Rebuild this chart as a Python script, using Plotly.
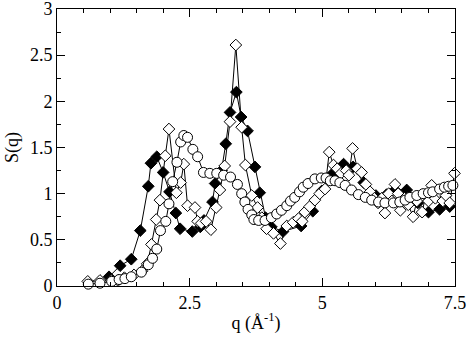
import plotly.graph_objs as go

# filled diamonds
q_filled = [0.98, 1.19, 1.40, 1.57, 1.72, 1.77, 1.88, 2.00, 2.12, 2.24, 2.32, 2.55, 2.70, 2.77,
            2.93, 2.98, 3.10, 3.18, 3.26, 3.38, 3.47, 3.59, 3.73, 3.82, 3.93, 4.04, 4.26, 4.60,
            4.82, 4.99, 5.18, 5.40, 5.58, 5.78, 6.01, 6.21, 6.37, 6.59, 6.80, 7.00, 7.21, 7.40]
s_filled = [0.10, 0.22, 0.29, 0.60, 1.08, 1.33, 1.40, 1.23, 1.02, 0.79, 0.62, 0.59, 0.64, 0.71,
            0.91, 1.11, 1.25, 1.54, 1.88, 2.10, 1.83, 1.68, 1.29, 1.01, 0.74, 0.64, 0.59, 0.65,
            0.81, 1.03, 1.21, 1.32, 1.29, 1.12, 0.98, 0.99, 1.04, 1.04, 0.90, 0.80, 0.83, 0.86]

# open diamonds
q_open = [0.58, 0.81, 1.02, 1.15, 1.27, 1.45, 1.60, 1.70, 1.78, 1.87, 1.94, 2.04, 2.11, 2.25,
          2.33, 2.39, 2.46, 2.60, 2.65, 2.72, 2.81, 2.90, 3.00, 3.07, 3.16, 3.26, 3.37, 3.48,
          3.55, 3.67, 3.78, 3.86, 3.95, 4.08, 4.21, 4.33, 4.45, 4.55, 4.62, 4.67, 4.76, 4.86,
          4.95, 5.05, 5.13, 5.21, 5.28, 5.35, 5.45, 5.50, 5.57, 5.66, 5.74, 5.82, 5.90, 5.98,
          6.05, 6.12, 6.18, 6.25, 6.31, 6.37, 6.43, 6.47, 6.55, 6.62, 6.71, 6.78, 6.88, 6.95,
          7.00, 7.06, 7.13, 7.20, 7.27, 7.33, 7.40, 7.49]
s_open = [0.05, 0.06, 0.06, 0.06, 0.09, 0.12, 0.16, 0.24, 0.45, 0.72, 0.93, 1.41, 1.70, 1.01,
          1.12, 1.32, 0.87, 0.85, 0.70, 0.68, 0.70, 0.61, 0.85, 1.04, 1.30, 1.78, 2.61, 1.72,
          1.31, 0.98, 0.85, 0.74, 0.62, 0.57, 0.46, 0.65, 0.69, 0.73, 0.70, 0.80, 0.86, 0.93,
          1.00, 1.05, 1.45, 1.31, 1.27, 1.22, 1.25, 1.20, 1.49, 1.27, 1.23, 1.10, 1.02, 0.95,
          0.90, 0.95, 0.79, 1.00, 0.92, 1.10, 1.00, 0.82, 0.95, 0.88, 0.75, 0.92, 0.80, 0.98,
          0.92, 1.09, 0.95, 1.02, 0.92, 0.98, 0.90, 1.22]

# open circles
q_circ = [0.59, 0.81, 1.03, 1.17, 1.28, 1.40, 1.59, 1.72, 1.80, 1.88, 1.95, 2.05, 2.11, 2.18,
          2.26, 2.33, 2.39, 2.46, 2.56, 2.65, 2.76, 2.88, 3.01, 3.14, 3.27, 3.40, 3.48, 3.54,
          3.60, 3.67, 3.71, 3.80, 3.92, 4.04, 4.14, 4.23, 4.33, 4.40, 4.48, 4.57, 4.64, 4.73,
          4.86, 4.98, 5.07, 5.15, 5.24, 5.33, 5.43, 5.55, 5.68, 5.81, 5.93, 6.06, 6.18, 6.34,
          6.46, 6.56, 6.65, 6.78, 6.90, 7.00, 7.08, 7.21, 7.30, 7.38, 7.46]
s_circ = [0.02, 0.03, 0.05, 0.07, 0.08, 0.10, 0.15, 0.23, 0.30, 0.40, 0.60, 0.70, 0.89, 1.13,
          1.34, 1.56, 1.63, 1.61, 1.48, 1.40, 1.23, 1.22, 1.22, 1.20, 1.18, 1.10, 1.00, 0.91,
          0.83, 0.77, 0.72, 0.71, 0.71, 0.74, 0.78, 0.82, 0.87, 0.92, 0.96, 1.02, 1.07, 1.11,
          1.16, 1.17, 1.17, 1.14, 1.14, 1.12, 1.09, 1.04, 0.99, 0.96, 0.93, 0.91, 0.90, 0.90,
          0.91, 0.93, 0.96, 0.98, 1.00, 1.01, 1.02, 1.05, 1.07, 1.08, 1.09]

serif = '"Liberation Serif", "Times New Roman", "DejaVu Serif", serif'
line = dict(color='black', width=1)
data = [
    go.Scatter(x=q_filled, y=s_filled, mode='lines+markers', line=line, cliponaxis=False,
               marker=dict(symbol='diamond', size=9, color='black', line=dict(color='black', width=1))),
    go.Scatter(x=q_open, y=s_open, mode='lines+markers', line=line, cliponaxis=False,
               marker=dict(symbol='diamond', size=9, color='white', line=dict(color='black', width=1))),
    go.Scatter(x=q_circ, y=s_circ, mode='lines+markers', line=line, cliponaxis=False,
               marker=dict(symbol='circle', size=10, color='white', line=dict(color='black', width=1))),
]

axis_common = dict(showline=True, linecolor='black', linewidth=1, mirror='ticks', automargin=False,
                   ticks='inside', ticklen=8, tickcolor='black', showgrid=False, zeroline=False,
                   ticklabeloverflow='allow',
                   tickfont=dict(family=serif, size=18, color='black'))

layout = go.Layout(
    width=469, height=345, showlegend=False,
    paper_bgcolor='white', plot_bgcolor='white',
    font=dict(family=serif, color='black'),
    margin=dict(l=57, r=14, t=9, b=59),
    xaxis=dict(range=[0, 7.5], dtick=2.5, tick0=0,
               title=dict(text='q (Å<sup>-1</sup>)', font=dict(family=serif, size=18), standoff=4),
               minor=dict(dtick=0.5, ticks='inside', ticklen=4, tickcolor='black'),
               **axis_common),
    yaxis=dict(range=[0, 3], dtick=0.5, tick0=0,
               title=dict(text='S(q)', font=dict(family=serif, size=18), standoff=6),
               minor=dict(dtick=0.25, ticks='inside', ticklen=4, tickcolor='black'),
               **axis_common),
)

fig = go.Figure(data=data, layout=layout)
# the page's default body margin would shift the figure by 8px
fig.write_html("out.html", config={'displayModeBar': False},
               post_script="document.body.style.margin='0';")
